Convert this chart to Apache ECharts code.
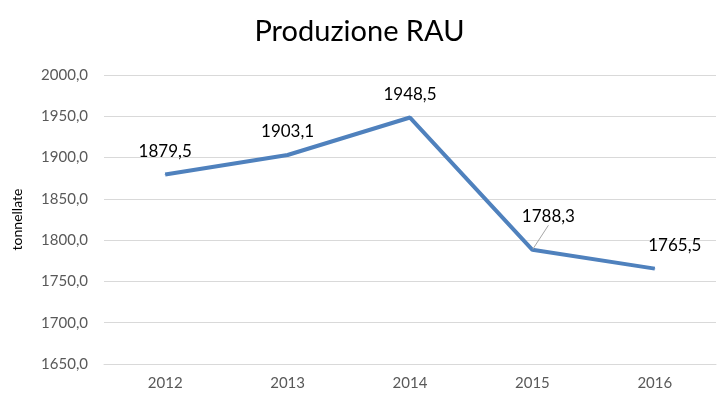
<!DOCTYPE html>
<html><head><meta charset="utf-8">
<script src="https://cdn.jsdelivr.net/npm/echarts@6/dist/echarts.min.js"></script>
<style>html,body{margin:0;padding:0;background:#fff}#c{width:719px;height:406px}</style>
</head><body><div id="c"></div>
<script>
const categories = ['2012', '2013', '2014', '2015', '2016'];
const production = [1879.5, 1903.1, 1948.5, 1788.3, 1765.5];
const yTicks = [1650, 1700, 1750, 1800, 1850, 1900, 1950, 2000];

const fmt = v => v.toFixed(1).replace('.', ',');
const FONT = 'Lato, "Open Sans", sans-serif';
const seriesData = production.map((v, i) => i === 3
  ? {value: v, labelLine: {show: true}}
  : {value: v});
const chart = echarts.init(document.getElementById('c'), null, {renderer: 'canvas'});
chart.setOption({
  animation: false,
  title: {text: 'Produzione RAU', left: 'center', top: 12,
    textStyle: {fontFamily: FONT, fontSize: 29, fontWeight: 'normal', color: '#000'}},
  grid: {left: 104, right: 3, top: 75, bottom: 42},
  xAxis: {type: 'category', data: categories, boundaryGap: true,
    axisLine: {show: true, lineStyle: {color: '#d9d9d9'}}, axisTick: {show: false},
    axisLabel: {color: '#595959', fontSize: 15, fontFamily: FONT, margin: 12}},
  yAxis: {type: 'value', min: yTicks[0], max: yTicks[yTicks.length - 1], interval: 50,
    name: 'tonnellate', nameLocation: 'middle', nameGap: 80, nameRotate: 90,
    nameTextStyle: {color: '#000', fontSize: 14, fontFamily: FONT},
    axisLine: {show: false}, axisTick: {show: false},
    splitLine: {lineStyle: {color: '#d9d9d9', width: 1}},
    axisLabel: {color: '#595959', fontSize: 15, fontFamily: FONT, margin: 16, formatter: v => fmt(v)}},
  series: [{
    type: 'line', data: seriesData, symbol: 'circle', symbolSize: 1, showSymbol: true,
    itemStyle: {color: '#4f81bd'},
    lineStyle: {color: '#4f81bd', width: 4},
    label: {show: true, position: 'top', distance: 14, color: '#000', fontSize: 17, fontFamily: FONT,
      formatter: p => fmt(p.value)},
    labelLine: {show: false, lineStyle: {color: '#a6a6a6', width: 1}},
    labelLayout: function (p) {
      if (p.dataIndex === 3) return {dx: 16, dy: -10};
      if (p.dataIndex === 4) return {dx: 20, dy: 0};
      return {};
    }
  }]
});
</script></body></html>
